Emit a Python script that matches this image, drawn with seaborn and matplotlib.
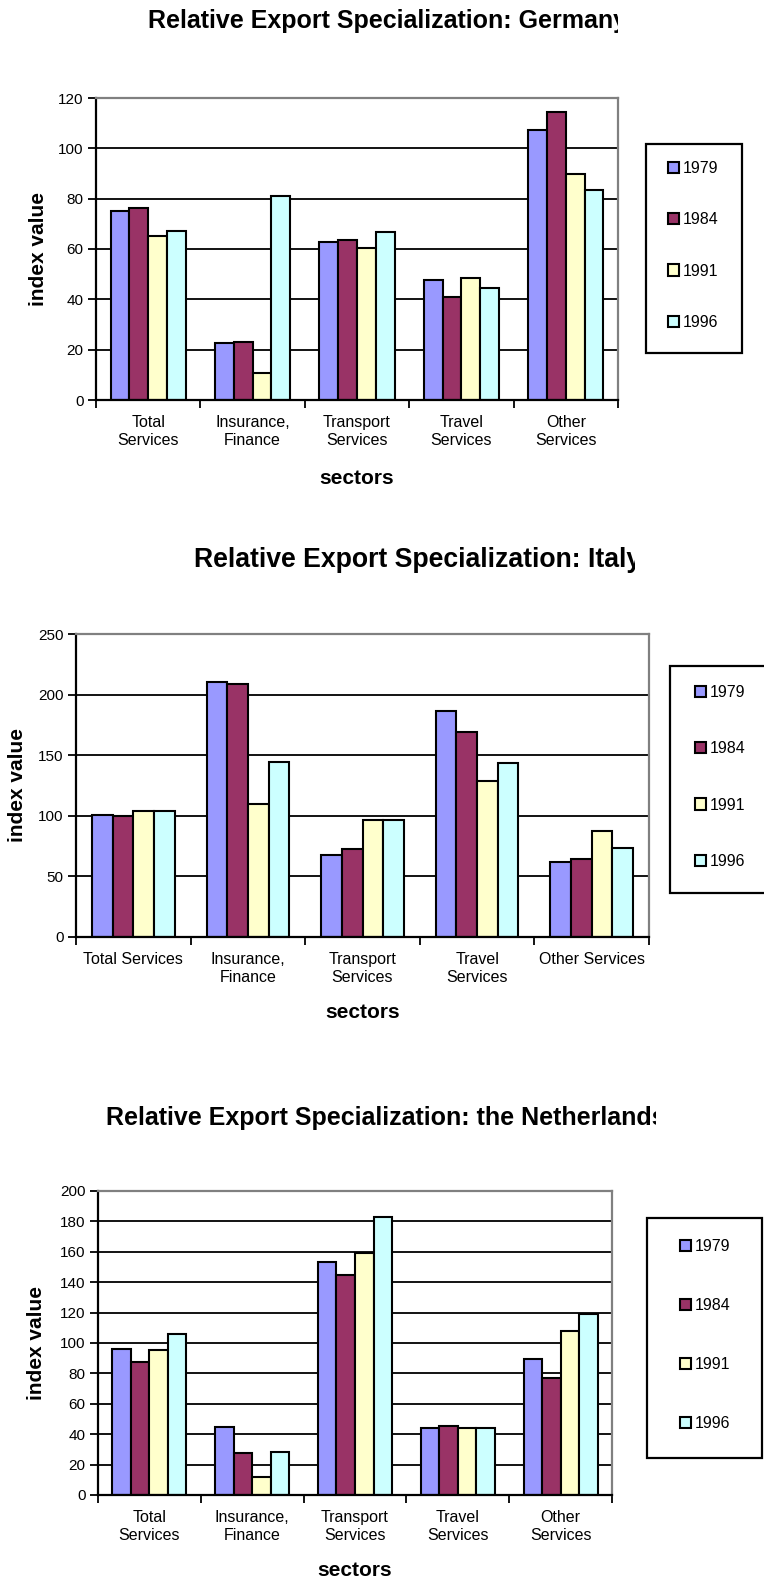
import numpy as np
import pandas as pd
import matplotlib
matplotlib.use("Agg")
import matplotlib.pyplot as plt
from matplotlib.patches import Patch, Rectangle
from matplotlib.transforms import Bbox, TransformedBbox
import seaborn as sns

# ---- data -------------------------------------------------------------
years = ["1979", "1984", "1991", "1996"]
sectors = ["Total Services", "Insurance, Finance", "Transport Services",
           "Travel Services", "Other Services"]

germany_1979 = [75.2, 22.5, 62.9, 47.6, 107.4]
germany_1984 = [76.1, 23.0, 63.5, 41.1, 114.5]
germany_1991 = [65.0, 10.9, 60.2, 48.4, 89.7]
germany_1996 = [67.2, 81.0, 66.7, 44.6, 83.6]

italy_1979 = [100.3, 210.6, 67.6, 186.5, 62.1]
italy_1984 = [99.8, 208.4, 72.3, 169.0, 64.6]
italy_1991 = [103.7, 109.8, 96.2, 128.6, 87.6]
italy_1996 = [104.2, 144.1, 96.2, 143.8, 73.2]

nl_1979 = [96.2, 44.8, 153.0, 44.4, 89.6]
nl_1984 = [87.2, 27.5, 144.5, 45.5, 76.9]
nl_1991 = [95.5, 11.6, 158.9, 43.9, 108.0]
nl_1996 = [106.0, 28.4, 183.0, 44.4, 118.9]

labels_two_line = ["Total\nServices", "Insurance,\nFinance", "Transport\nServices",
                   "Travel\nServices", "Other\nServices"]
labels_italy = ["Total Services", "Insurance,\nFinance", "Transport\nServices",
                "Travel\nServices", "Other Services"]

palette = {"1979": "#9999FF", "1984": "#993366", "1991": "#FFFFCC", "1996": "#CCFFFF"}

# ---- style ------------------------------------------------------------
sns.set_theme(style="white")
plt.rcParams["font.family"] = ["Liberation Sans", "DejaVu Sans"]
for key in ("text.color", "axes.labelcolor", "xtick.color", "ytick.color"):
    plt.rcParams[key] = "black"

W, H = 764, 1582
fig = plt.figure(figsize=(W / 100, H / 100), dpi=100)
fig.patch.set_facecolor("white")

TICK_FS = 11
LEG_FS = 11.5
AXLABEL_FS = 15


def px_rect(left, top, right, bottom):
    return [left / W, (H - bottom) / H, (right - left) / W, (bottom - top) / H]


def long_frame(series):
    rows = []
    for yr, vals in zip(years, series):
        for sec, v in zip(sectors, vals):
            rows.append({"sector": sec, "year": yr, "value": v})
    return pd.DataFrame(rows)


def panel(series, rect, ymax, ystep, xticklabels, title, title_fs, title_x,
          title_y, title_clip, ylabel_x, xlabel_y, legend_box, legend_handle_x,
          legend_first_y, legend_step):
    ax = fig.add_axes(px_rect(*rect))
    df = long_frame(series)
    ax.set_axisbelow(True)
    ax.yaxis.grid(True, color="black", linewidth=1.3)
    sns.barplot(data=df, x="sector", y="value", hue="year", order=sectors,
                hue_order=years, palette=palette, width=0.72, dodge=True,
                edgecolor="black", linewidth=1.5, saturation=1, ax=ax,
                legend=False, errorbar=None)
    ax.set_xlim(-0.5, len(sectors) - 0.5)
    ax.set_ylim(0, ymax)
    ax.set_yticks(np.arange(0, ymax + 0.1, ystep))
    ax.set_xticks(range(len(sectors)))
    ax.set_xticklabels(xticklabels, fontsize=TICK_FS + 0.5, linespacing=1.2)
    ax.set_xticks(np.arange(-0.5, len(sectors), 1.0), minor=True)
    ax.tick_params(axis="x", which="major", length=0, pad=11)
    ax.tick_params(axis="x", which="minor", direction="out", length=6,
                   width=1.3, color="black", bottom=True)
    ax.tick_params(axis="y", direction="out", length=6, width=1.3,
                   color="black", left=True, labelsize=TICK_FS, pad=3)
    ax.set_xlabel("")
    ax.set_ylabel("")
    for side in ("left", "bottom"):
        ax.spines[side].set_color("black")
        ax.spines[side].set_linewidth(1.6)
    for side in ("top", "right"):
        ax.spines[side].set_color("#808080")
        ax.spines[side].set_linewidth(1.6)

    # axis titles
    cx = (rect[0] + rect[2]) / 2
    fig.text(cx / W, 1 - xlabel_y / H, "sectors", fontsize=AXLABEL_FS,
             fontweight="bold", ha="center", va="center")
    cy = (rect[1] + rect[3]) / 2
    fig.text(ylabel_x / W, 1 - cy / H, "index value", fontsize=AXLABEL_FS,
             fontweight="bold", rotation=90, ha="center", va="center")

    # chart title, cut off by its text frame on the right
    t = fig.text(title_x / W, 1 - title_y / H, title, fontsize=title_fs,
                 fontweight="bold", ha="left", va="center")
    t.set_clip_on(True)
    t.set_clip_box(TransformedBbox(Bbox([[0, 0], [title_clip / W, 1]]),
                                   fig.transFigure))

    # legend: framed box with evenly spaced entries
    lx0, ly0, lx1, ly1 = legend_box
    fig.patches.append(Rectangle((lx0 / W, 1 - ly1 / H), (lx1 - lx0) / W,
                                 (ly1 - ly0) / H, transform=fig.transFigure,
                                 facecolor="white", edgecolor="black",
                                 linewidth=1.6, zorder=1))
    handles = [Patch(facecolor=palette[y], edgecolor="black", linewidth=1.5,
                     label=y) for y in years]
    em = LEG_FS * 100 / 72
    n = len(years)
    center_y = legend_first_y + legend_step * (n - 1) / 2
    leg = fig.legend(handles=handles, loc="center left",
                     bbox_to_anchor=(legend_handle_x / W, 1 - center_y / H),
                     borderaxespad=0, borderpad=0, fontsize=LEG_FS,
                     labelspacing=(legend_step - em * 0.93) / em,
                     handlelength=0.7, handleheight=0.7, handletextpad=0.25,
                     frameon=False)
    leg.set_zorder(2)
    return ax


panel([germany_1979, germany_1984, germany_1991, germany_1996],
      rect=(96, 98, 618, 400), ymax=120, ystep=20, xticklabels=labels_two_line,
      title="Relative Export Specialization: Germany", title_fs=18,
      title_x=148, title_y=21, title_clip=618, ylabel_x=38, xlabel_y=478,
      legend_box=(646, 144, 742, 353), legend_handle_x=668,
      legend_first_y=169, legend_step=51)

panel([italy_1979, italy_1984, italy_1991, italy_1996],
      rect=(76, 634, 649, 937), ymax=250, ystep=50, xticklabels=labels_italy,
      title="Relative Export Specialization: Italy", title_fs=19.2,
      title_x=194, title_y=560, title_clip=635, ylabel_x=18, xlabel_y=1012,
      legend_box=(670, 666, 790, 893), legend_handle_x=695,
      legend_first_y=693, legend_step=56)

panel([nl_1979, nl_1984, nl_1991, nl_1996],
      rect=(98, 1191, 612, 1495), ymax=200, ystep=20, xticklabels=labels_two_line,
      title="Relative Export Specialization: the Netherlands", title_fs=18,
      title_x=106, title_y=1118, title_clip=656, ylabel_x=37, xlabel_y=1571,
      legend_box=(647, 1218, 762, 1458), legend_handle_x=680,
      legend_first_y=1247, legend_step=58.7)

fig.savefig("out.png", dpi=100, facecolor="white")
